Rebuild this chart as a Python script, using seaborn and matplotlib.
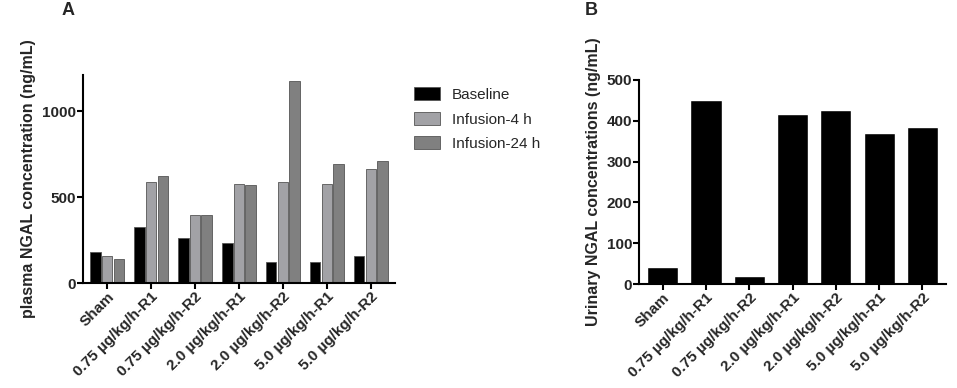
import matplotlib
matplotlib.use("Agg")
import matplotlib.pyplot as plt
import seaborn as sns
import pandas as pd

categories = ["Sham", "0.75 µg/kg/h-R1", "0.75 µg/kg/h-R2", "2.0 µg/kg/h-R1",
              "2.0 µg/kg/h-R2", "5.0 µg/kg/h-R1", "5.0 µg/kg/h-R2"]
series_names = ["Baseline", "Infusion-4 h", "Infusion-24 h"]
baseline = [183, 323, 259, 230, 124, 120, 155]
infusion_4h = [160, 586, 398, 576, 590, 576, 665]
infusion_24h = [141, 623, 396, 572, 1178, 692, 710]
urinary = [42, 452, 20, 416, 427, 370, 385]
yticks_a = [0, 500, 1000]
yticks_b = [0, 100, 200, 300, 400, 500]

sns.set_theme(style="ticks")
plt.rcParams["font.family"] = ["Liberation Sans", "DejaVu Sans"]
plt.rcParams["font.weight"] = "bold"

df_a = pd.DataFrame({
    "group": categories * 3,
    "series": sum([[s] * len(categories) for s in series_names], []),
    "value": baseline + infusion_4h + infusion_24h,
})
df_b = pd.DataFrame({"group": categories, "value": urinary})

fig = plt.figure(figsize=(9.57, 3.88), dpi=100)
ax1 = fig.add_axes([0.0867, 0.2706, 0.326, 0.536])
ax2 = fig.add_axes([0.6677, 0.268, 0.321, 0.526])

palette = {"Baseline": "#000000", "Infusion-4 h": "#a2a2a6", "Infusion-24 h": "#808080"}
sns.barplot(data=df_a, x="group", y="value", hue="series", palette=palette,
            width=0.8, gap=0.1, ax=ax1, edgecolor="#555555", linewidth=0.6,
            saturation=1)
sns.barplot(data=df_b, x="group", y="value", color="#000000", width=0.72,
            ax=ax2, saturation=1)

for ax in (ax1, ax2):
    sns.despine(ax=ax)
    ax.spines["left"].set_linewidth(1.5)
    ax.spines["bottom"].set_linewidth(1.5)
    ax.spines["left"].set_color("black")
    ax.spines["bottom"].set_color("black")
    ax.tick_params(axis="both", width=1.5, length=4, color="black",
                   labelsize=11, pad=1)
    ax.set_xlabel("")
    ax.set_xlim(-0.55, 6.55)
    for lbl in ax.get_xticklabels():
        lbl.set_rotation(45)
        lbl.set_ha("right")
        lbl.set_rotation_mode("anchor")
        lbl.set_fontweight("bold")
        lbl.set_fontsize(11)

ax1.set_ylim(0, 1210)
ax1.set_yticks(yticks_a)
ax1.set_yticklabels([str(t) for t in yticks_a], fontweight="bold", fontsize=11)
ax1.set_ylabel("plasma NGAL concentration (ng/mL)", fontsize=11.5,
               fontweight="bold", labelpad=4)
ax2.set_ylim(0, 500)
ax2.set_yticks(yticks_b)
ax2.set_yticklabels([str(t) for t in yticks_b], fontweight="bold", fontsize=11)
ax2.set_ylabel("Urinary NGAL concentrations (ng/mL)", fontsize=11.5,
               fontweight="bold", labelpad=4)

leg = ax1.legend(loc="upper left", bbox_to_anchor=(1.04, 0.97), frameon=False,
                 fontsize=11, handlelength=1.7, handleheight=0.9,
                 labelspacing=0.65, borderaxespad=0, handletextpad=0.8)
for t in leg.get_texts():
    t.set_fontweight("normal")

fig.text(0.064, 0.995, "A", fontsize=13, fontweight="bold", va="top")
fig.text(0.611, 0.995, "B", fontsize=13, fontweight="bold", va="top")

fig.savefig("out.png", dpi=100)
